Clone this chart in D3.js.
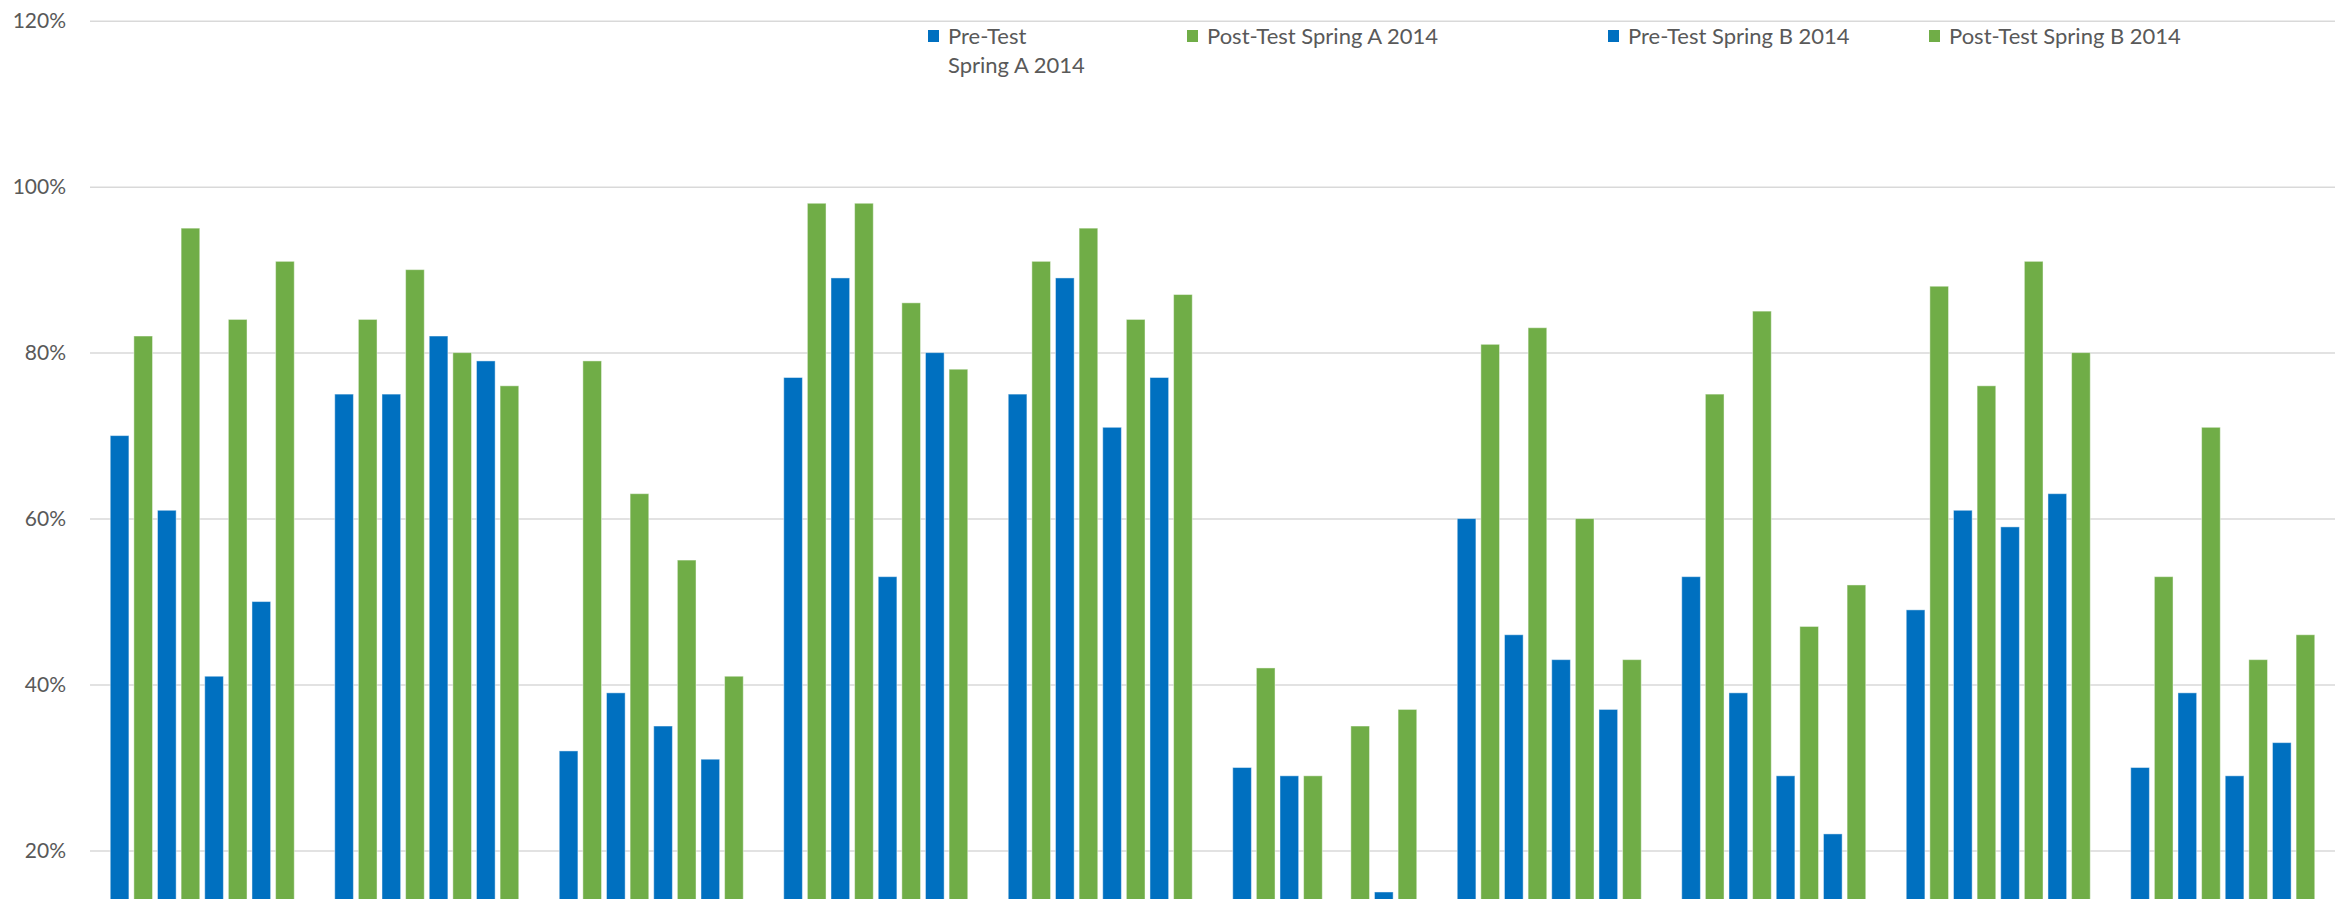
<!DOCTYPE html>
<html>
<head>
<meta charset="utf-8">
<script src="https://cdn.jsdelivr.net/npm/d3@7"></script>
<style>
  html, body { margin: 0; padding: 0; background: #fff; overflow: hidden; }
  svg { display: block; }
</style>
</head>
<body>
<div id="chart"></div>
<script>
// 10 groups of 8 bars, alternating pre (blue) / post (green) tests
const GROUPS = ["1","2","3","4","5","6","7","8","9","10"];
const SERIES = ["s1","s2","s3","s4","s5","s6","s7","s8"];
const LEGEND_LABELS = [
  ["Pre-Test", "Spring A 2014"],
  ["Post-Test Spring A 2014"],
  ["Pre-Test Spring B 2014"],
  ["Post-Test Spring B 2014"],
];

const S1 = [70, 75, 32, 77, 75, 30, 60, 53, 49, 30];
const S2 = [82, 84, 79, 98, 91, 42, 81, 75, 88, 53];
const S3 = [61, 75, 39, 89, 89, 29, 46, 39, 61, 39];
const S4 = [95, 90, 63, 98, 95, 29, 83, 85, 76, 71];
const S5 = [41, 82, 35, 53, 71, null, 43, 29, 59, 29];
const S6 = [84, 80, 55, 86, 84, 35, 60, 47, 91, 43];
const S7 = [50, 79, 31, 80, 77, 15, 37, 22, 63, 33];
const S8 = [91, 76, 41, 78, 87, 37, 43, 52, 80, 46];
const VALUES = [S1, S2, S3, S4, S5, S6, S7, S8];

const Y_TICKS = [20, 40, 60, 80, 100, 120];

const BLUE = "#0070c0", GREEN = "#70ad47";
const colorOf = i => (i % 2 === 0 ? BLUE : GREEN);

const totalW = 2344, totalH = 899;
const plot = { left: 90, right: 2335 };
const FONT = "Lato, 'Liberation Sans', sans-serif";

const svg = d3.select("#chart").append("svg")
  .attr("width", totalW).attr("height", totalH)
  .style("font-family", FONT);

/* ── Scales ── */
const y = d3.scaleLinear().domain([20, 120]).range([850.5, 20.7]);
const yBase = y(0);   // axis floor sits below the visible area

const x0 = d3.scaleBand().domain(GROUPS).range([plot.left, plot.right]).padding(0);
const x1 = d3.scaleBand().domain(SERIES).range([0, x0.bandwidth()])
  .paddingInner(0.21).paddingOuter(0.857);

/* ── Grid + y axis ── */
svg.append("g")
  .attr("transform", `translate(${plot.left},0)`)
  .call(d3.axisLeft(y).tickValues(Y_TICKS).tickSize(-(plot.right - plot.left)).tickPadding(24)
    .tickFormat(d => d + "%"))
  .call(ax => {
    ax.select(".domain").remove();
    ax.selectAll("line").attr("stroke", "#d9d9d9").attr("stroke-width", 1.5);
    ax.selectAll("text").attr("font-size", 21).attr("fill", "#595959")
      .attr("font-family", FONT);
  });

/* ── Bars ── */
const groupsG = svg.append("g");
SERIES.forEach((s, i) => {
  const rows = GROUPS.map((g, j) => ({ g, v: VALUES[i][j] })).filter(d => d.v != null);
  groupsG.selectAll(`.bar-${s}`)
    .data(rows)
    .join("rect")
    .attr("class", `bar bar-${s}`)
    .attr("x", d => x0(d.g) + x1(s))
    .attr("width", x1.bandwidth())
    .attr("y", d => y(d.v))
    .attr("height", d => yBase - y(d.v))
    .attr("fill", colorOf(i))
    .attr("stroke", "#ffffff")
    .attr("stroke-opacity", 0.45)
    .attr("stroke-width", 1);
});

/* ── Legend ── */
const legendX = [928, 1187, 1608, 1929];
const legend = svg.append("g");
LEGEND_LABELS.forEach((lines, i) => {
  const lg = legend.append("g").attr("transform", `translate(${legendX[i]},0)`);
  lg.append("rect").attr("x", 0).attr("y", 30).attr("width", 11).attr("height", 12)
    .attr("fill", colorOf(i));
  lines.forEach((t, k) => {
    lg.append("text").attr("x", 20).attr("y", 44 + k * 29)
      .attr("font-size", 22).attr("fill", "#595959").text(t);
  });
});
</script>
</body>
</html>
